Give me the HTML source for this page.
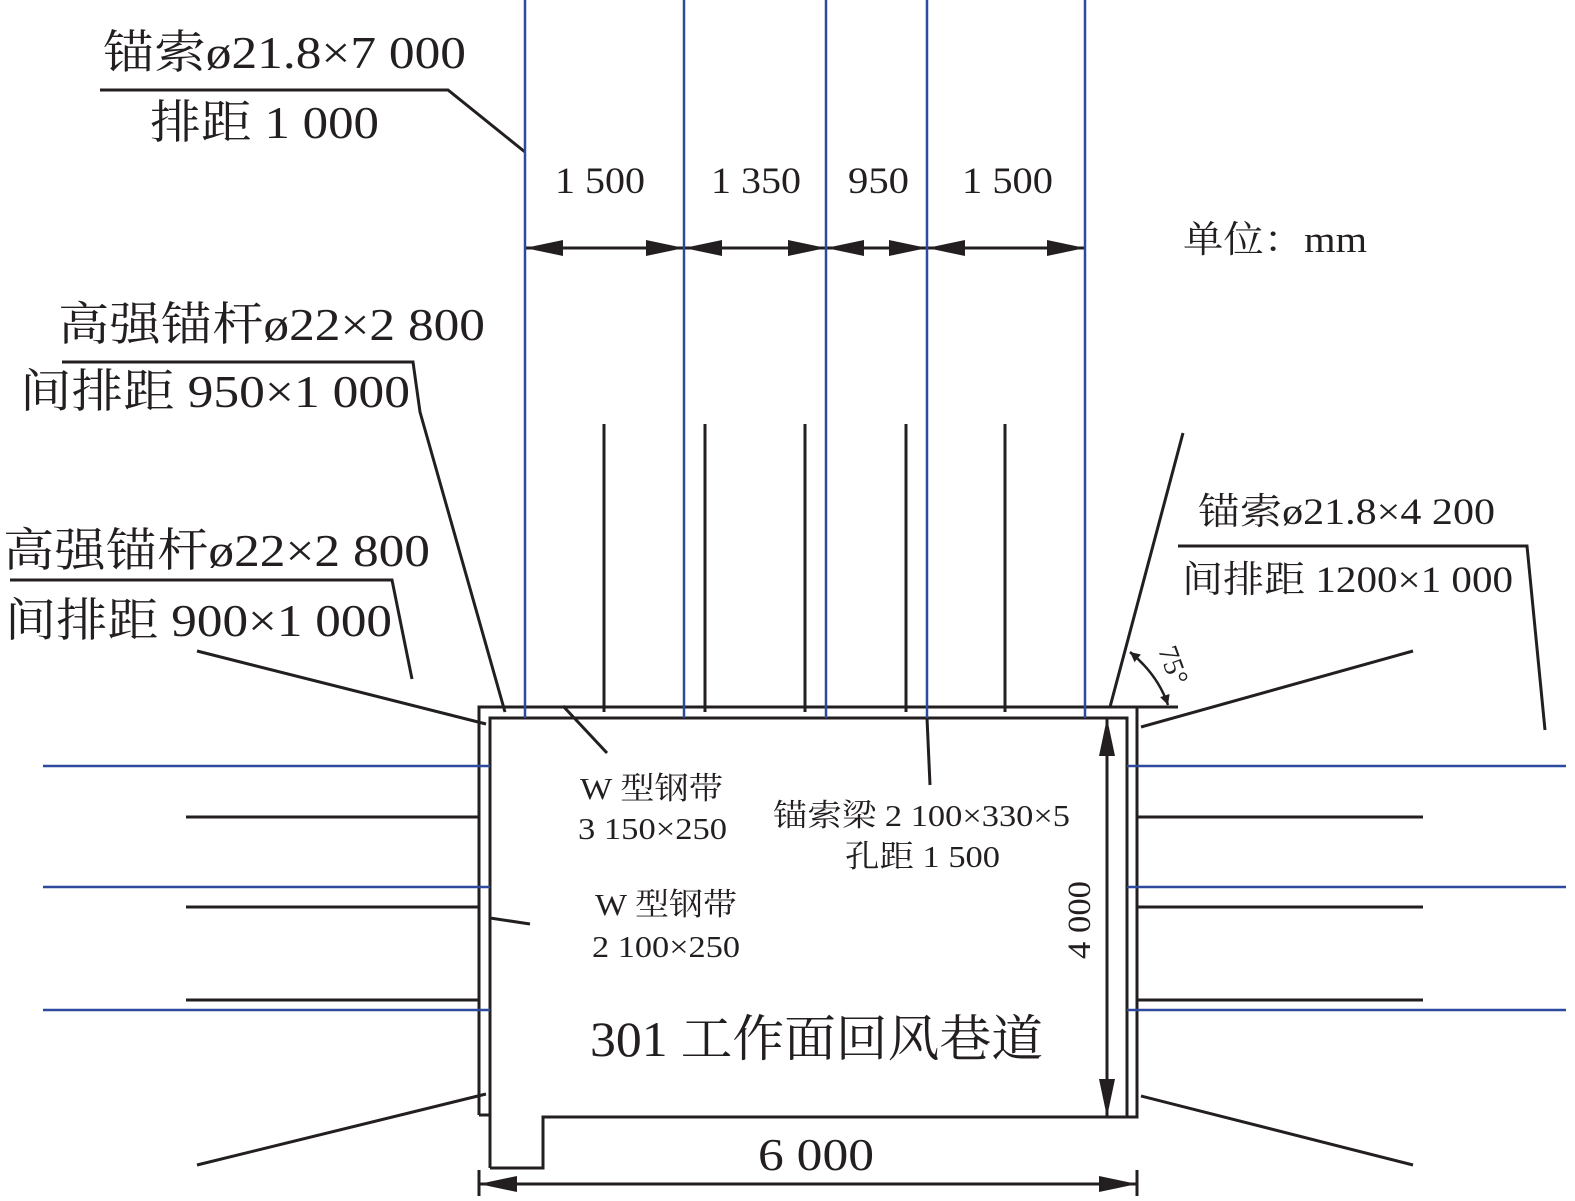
<!DOCTYPE html>
<html><head><meta charset="utf-8"><style>
html,body{margin:0;padding:0;background:#fff}
svg text{font-family:"Liberation Serif","Noto Serif CJK SC",serif;fill:#231f20}
</style></head><body>
<svg width="1575" height="1196" viewBox="0 0 1575 1196" xmlns="http://www.w3.org/2000/svg">
<defs>
<marker id="a" viewBox="0 0 10 10" refX="10" refY="5" markerWidth="10" markerHeight="10" markerUnits="userSpaceOnUse" orient="auto-start-reverse"><path d="M0,0 L10,5 L0,10 z" fill="#231f20"/></marker>
<marker id="b" viewBox="0 0 38 16" refX="38" refY="8" markerWidth="38" markerHeight="16" markerUnits="userSpaceOnUse" orient="auto-start-reverse"><path d="M0,0 L38,8 L0,16 z" fill="#231f20"/></marker>
</defs>
<g stroke="#231f20" stroke-width="3" fill="none">
<polyline points="479,1115 479,707 1178,707"/>
<polyline points="479,1115 490,1115"/>
<polyline points="490,1168 490,718 1127,718 1127,1117 543,1117 543,1168 490,1168"/>
<polyline points="1137,707 1137,1117 1127,1117"/>
<line x1="604" y1="424" x2="604" y2="712"/>
<line x1="705" y1="424" x2="705" y2="712"/>
<line x1="805" y1="424" x2="805" y2="712"/>
<line x1="906" y1="424" x2="906" y2="712"/>
<line x1="1005" y1="424" x2="1005" y2="712"/>
<line x1="186" y1="817" x2="479" y2="817"/>
<line x1="186" y1="907" x2="479" y2="907"/>
<line x1="186" y1="1000" x2="479" y2="1000"/>
<line x1="1137" y1="817" x2="1423" y2="817"/>
<line x1="1137" y1="907" x2="1423" y2="907"/>
<line x1="1137" y1="1000" x2="1423" y2="1000"/>
<line x1="197" y1="651" x2="486" y2="724"/>
<line x1="197" y1="1165" x2="486" y2="1094"/>
<line x1="1141" y1="727" x2="1413" y2="651"/>
<line x1="1141" y1="1096" x2="1413" y2="1165"/>
<line x1="1183" y1="433" x2="1110" y2="707"/>
<polyline points="100,90 448,90 525,152"/>
<polyline points="62,362 413,362 420,412 505,712"/>
<polyline points="10,580 392,580 412,679"/>
<polyline points="1178,546 1527,546 1545,730"/>
<line x1="563" y1="706" x2="607" y2="753"/>
<line x1="490" y1="918" x2="530" y2="924"/>
<line x1="927" y1="718" x2="930" y2="785"/>
<path d="M1130,652 Q1158,675 1168,705" marker-start="url(#a)" marker-end="url(#a)" stroke-width="2.5"/>
<line x1="525" y1="248" x2="684" y2="248" marker-start="url(#b)" marker-end="url(#b)"/>
<line x1="684" y1="248" x2="826" y2="248" marker-start="url(#b)" marker-end="url(#b)"/>
<line x1="826" y1="248" x2="927" y2="248" marker-start="url(#b)" marker-end="url(#b)"/>
<line x1="927" y1="248" x2="1085" y2="248" marker-start="url(#b)" marker-end="url(#b)"/>
<line x1="1107" y1="718" x2="1107" y2="1117" marker-start="url(#b)" marker-end="url(#b)"/>
<line x1="479" y1="1184" x2="1137" y2="1184" marker-start="url(#b)" marker-end="url(#b)"/>
<line x1="479" y1="1170" x2="479" y2="1196"/>
<line x1="1137" y1="1170" x2="1137" y2="1196"/>
</g>
<g stroke="#2e4a9e" stroke-width="2.5">
<line x1="525" y1="0" x2="525" y2="718"/>
<line x1="684" y1="0" x2="684" y2="718"/>
<line x1="826" y1="0" x2="826" y2="718"/>
<line x1="927" y1="0" x2="927" y2="718"/>
<line x1="1085" y1="0" x2="1085" y2="718"/>
<line x1="43" y1="766" x2="490" y2="766"/>
<line x1="43" y1="887" x2="490" y2="887"/>
<line x1="43" y1="1010" x2="490" y2="1010"/>
<line x1="1127" y1="766" x2="1566" y2="766"/>
<line x1="1127" y1="887" x2="1566" y2="887"/>
<line x1="1127" y1="1010" x2="1566" y2="1010"/>
</g>
<g lengthAdjust="spacingAndGlyphs">
<text x="103" y="68" font-size="46" textLength="363" lengthAdjust="spacingAndGlyphs">锚索ø21.8×7 000</text>
<text x="150" y="138" font-size="46" textLength="229" lengthAdjust="spacingAndGlyphs">排距 1 000</text>
<text x="555" y="193" font-size="37" textLength="90" lengthAdjust="spacingAndGlyphs">1 500</text>
<text x="711" y="193" font-size="37" textLength="90" lengthAdjust="spacingAndGlyphs">1 350</text>
<text x="848" y="193" font-size="37" textLength="61" lengthAdjust="spacingAndGlyphs">950</text>
<text x="962" y="193" font-size="37" textLength="91" lengthAdjust="spacingAndGlyphs">1 500</text>
<text x="1183" y="252" font-size="37" textLength="184" lengthAdjust="spacingAndGlyphs">单位：mm</text>
<text x="58" y="340" font-size="46" textLength="427" lengthAdjust="spacingAndGlyphs">高强锚杆ø22×2 800</text>
<text x="20" y="407" font-size="46" textLength="390" lengthAdjust="spacingAndGlyphs">间排距 950×1 000</text>
<text x="3" y="566" font-size="46" textLength="427" lengthAdjust="spacingAndGlyphs">高强锚杆ø22×2 800</text>
<text x="5" y="636" font-size="46" textLength="387" lengthAdjust="spacingAndGlyphs">间排距 900×1 000</text>
<text x="1198" y="524" font-size="37" textLength="297" lengthAdjust="spacingAndGlyphs">锚索ø21.8×4 200</text>
<text x="1182" y="592" font-size="37" textLength="331" lengthAdjust="spacingAndGlyphs">间排距 1200×1 000</text>
<text x="0" y="0" font-size="28" transform="translate(1158,650) rotate(70)">75°</text>
<text x="580" y="799" font-size="31" textLength="143" lengthAdjust="spacingAndGlyphs">W 型钢带</text>
<text x="578" y="839" font-size="31" textLength="149" lengthAdjust="spacingAndGlyphs">3 150×250</text>
<text x="773" y="826" font-size="31" textLength="297" lengthAdjust="spacingAndGlyphs">锚索梁 2 100×330×5</text>
<text x="845" y="867" font-size="31" textLength="155" lengthAdjust="spacingAndGlyphs">孔距 1 500</text>
<text x="595" y="915" font-size="31" textLength="142" lengthAdjust="spacingAndGlyphs">W 型钢带</text>
<text x="592" y="957" font-size="31" textLength="148" lengthAdjust="spacingAndGlyphs">2 100×250</text>
<text x="590" y="1056" font-size="50" textLength="453" lengthAdjust="spacingAndGlyphs">301 工作面回风巷道</text>
<text x="758" y="1170" font-size="46" textLength="116" lengthAdjust="spacingAndGlyphs">6 000</text>
<text x="0" y="0" font-size="33" textLength="78" lengthAdjust="spacingAndGlyphs" transform="translate(1090,959) rotate(-90)">4 000</text>
</g>
</svg>
</body></html>
